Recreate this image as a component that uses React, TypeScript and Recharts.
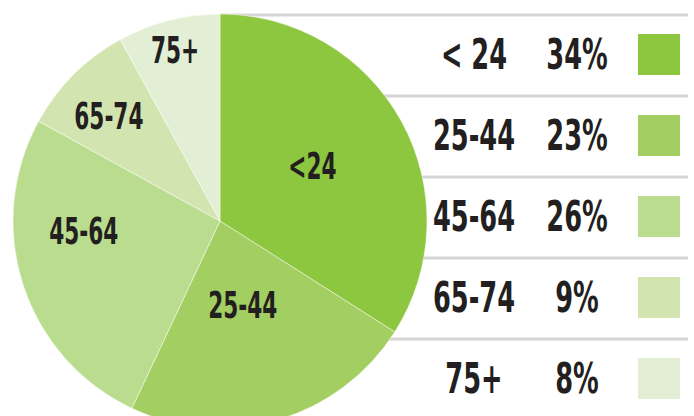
import { PieChart, Pie, Cell, Legend } from 'recharts';

const ageGroups = ['<24', '25-44', '45-64', '65-74', '75+'];
const legendLabels = ['< 24', '25-44', '45-64', '65-74', '75+'];
const shares = [34, 23, 26, 9, 8];
const sliceColors = ['#8dc63f', '#a3cf62', '#b9dc8e', '#d2e5b0', '#e2efd4'];

const data = ageGroups.map((name, i) => ({ name, value: shares[i] }));

const W = 694;
const H = 416;
const INK = '#231f20';
const FONT = "'DejaVu Sans Condensed', 'DejaVu Sans', sans-serif";

// where each slice label sits: fraction of radius + small angle nudge
const labelSpots = [
    { r: 0.52, da: 2 },
    { r: 0.42, da: -1 },
    { r: 0.66, da: -14 },
    { r: 0.74, da: 1.5 },
    { r: 0.855, da: 0.3 },
];

const RAD = Math.PI / 180;

function SliceLabel(props: any) {
    const { cx, cy, midAngle, outerRadius, index } = props;
    const spot = labelSpots[index];
    const a = (midAngle + spot.da) * RAD;
    const x = cx + outerRadius * spot.r * Math.cos(-a);
    const y = cy + outerRadius * spot.r * Math.sin(-a);
    return (
        <g transform={`translate(${x},${y}) scale(0.65,1)`}>
            <text x={0} y={13} textAnchor="middle" fill={INK} fontFamily={FONT} fontWeight={700} fontSize={37}>
                {ageGroups[index]}
            </text>
        </g>
    );
}

function AgeLegend(props: any) {
    const payload = props.payload || [];
    return (
        <svg width={W} height={H} style={{ display: 'block' }}>
            {payload.map((entry: any, i: number) => {
                const top = 15 + i * 81;
                return (
                    <g key={entry.value}>
                        <line x1={220} x2={688} y1={top} y2={top} stroke="#d5d5d5" strokeWidth={3} />
                        <g transform={`translate(474,${top + 54}) scale(0.68,1)`}>
                            <text x={0} y={0} textAnchor="middle" fill={INK} fontFamily={FONT} fontWeight={700} fontSize={42}>
                                {legendLabels[i]}
                            </text>
                        </g>
                        <g transform={`translate(577,${top + 54}) scale(0.68,1)`}>
                            <text x={0} y={0} textAnchor="middle" fill={INK} fontFamily={FONT} fontWeight={700} fontSize={42}>
                                {shares[i]}%
                            </text>
                        </g>
                        <rect x={638} y={top + 19} width={42} height={41} fill={sliceColors[i]} />
                    </g>
                );
            })}
        </svg>
    );
}

export default function App() {
    return (
        <div
            style={{
                position: 'absolute',
                left: 0,
                top: 0,
                width: W,
                height: H,
                overflow: 'hidden',
                background: '#fff',
                isolation: 'isolate',
            }}
        >
            <PieChart width={W} height={H} margin={{ top: 0, right: 0, bottom: 0, left: 0 }}>
                <Legend
                    layout="vertical"
                    align="center"
                    verticalAlign="middle"
                    content={AgeLegend}
                    wrapperStyle={{ left: 0, top: 0, width: W, height: H, zIndex: -1 }}
                />
                <Pie
                    data={data}
                    dataKey="value"
                    nameKey="name"
                    cx={220}
                    cy={221}
                    outerRadius={207}
                    startAngle={90}
                    endAngle={-270}
                    stroke="#ffffff"
                    strokeWidth={1}
                    strokeOpacity={0.45}
                    label={SliceLabel}
                    labelLine={false}
                    isAnimationActive={false}
                >
                    {data.map((d, i) => (
                        <Cell key={d.name} fill={sliceColors[i]} />
                    ))}
                </Pie>
            </PieChart>
        </div>
    );
}
